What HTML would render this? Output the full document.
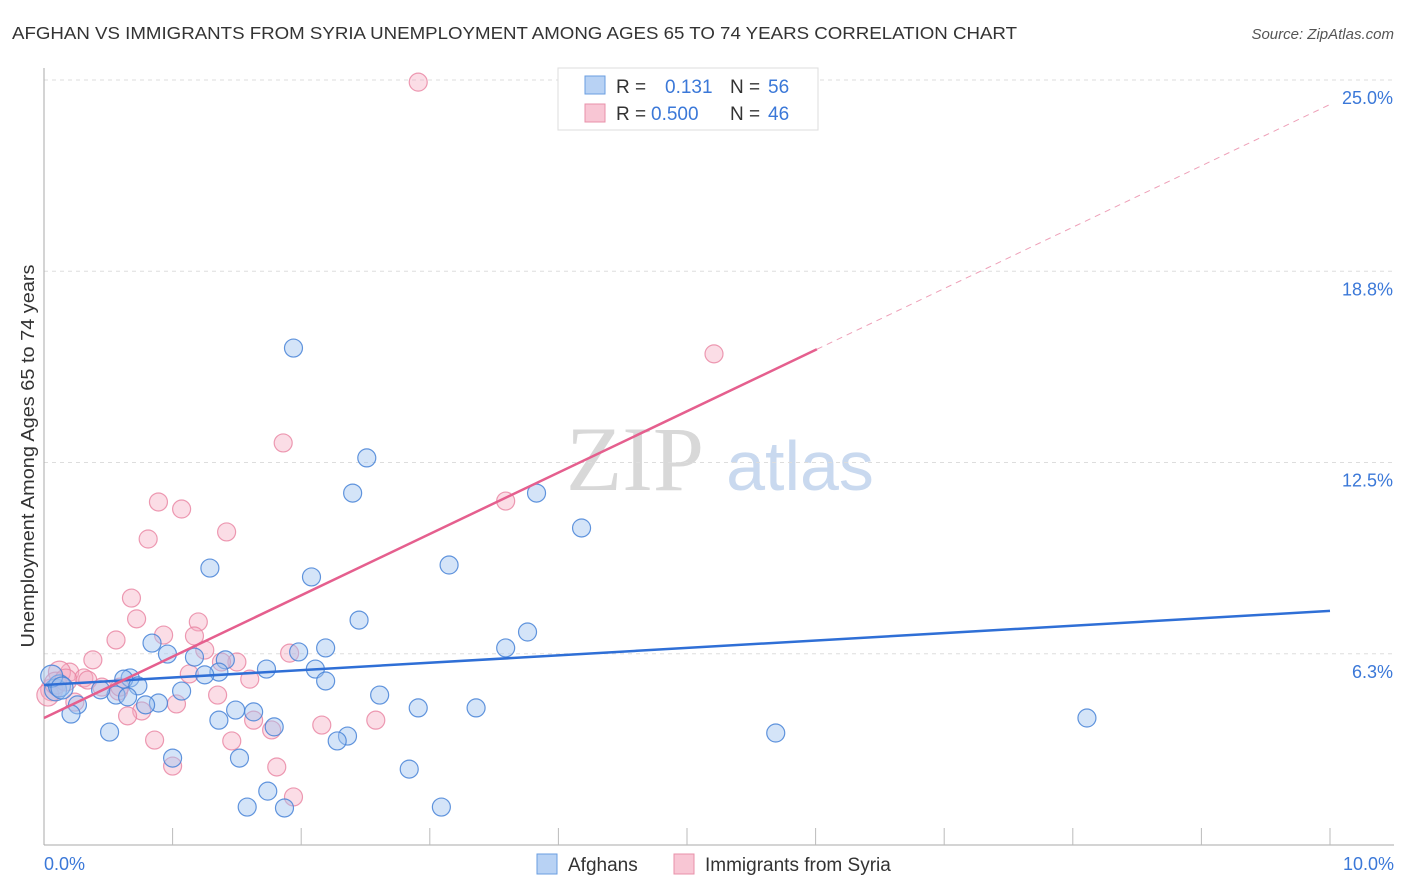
<!DOCTYPE html>
<html><head><meta charset="utf-8"><style>
body{margin:0;background:#fff;font-family:"Liberation Sans",sans-serif;}
svg{display:block}
</style></head><body>
<svg id="chart" width="1406" height="892">
<text x="12" y="39" font-size="17.5" fill="#333" textLength="1005" lengthAdjust="spacingAndGlyphs">AFGHAN VS IMMIGRANTS FROM SYRIA UNEMPLOYMENT AMONG AGES 65 TO 74 YEARS CORRELATION CHART</text>
<text x="1394" y="39" font-size="15" fill="#555" font-style="italic" text-anchor="end">Source: ZipAtlas.com</text>
<text x="635" y="490" font-size="92" fill="#d8d8d8" font-family="Liberation Serif,serif" text-anchor="middle">ZIP</text>
<text x="800" y="490" font-size="70" fill="#c9d9ef" text-anchor="middle">atlas</text>
<g id="grid"></g><g id="axes"></g><g id="pts"></g><g id="lines"></g>
<text transform="translate(34,456) rotate(-90)" font-size="18.5" fill="#333" text-anchor="middle" textLength="383" lengthAdjust="spacingAndGlyphs">Unemployment Among Ages 65 to 74 years</text>
<g>
<rect x="558" y="68" width="260" height="62" fill="#fff" stroke="#ddd"/>
<rect x="585" y="76" width="20" height="18" fill="#b8d2f4" stroke="#6a9ee0"/>
<rect x="585" y="104" width="20" height="18" fill="#f8c6d4" stroke="#e890aa"/>
<text x="616" y="93" font-size="19" fill="#333">R = </text><text x="665" y="93" font-size="19" fill="#3b78d8">0.131</text>
<text x="730" y="93" font-size="19" fill="#333">N = </text><text x="768" y="93" font-size="19" fill="#3b78d8">56</text>
<text x="616" y="120" font-size="19" fill="#333">R = </text><text x="651" y="120" font-size="19" fill="#3b78d8">0.500</text>
<text x="730" y="120" font-size="19" fill="#333">N = </text><text x="768" y="120" font-size="19" fill="#3b78d8">46</text>
</g>
<g>
<rect x="537" y="854" width="20" height="20" fill="#b8d2f4" stroke="#6a9ee0"/>
<text x="568" y="871" font-size="19" fill="#333">Afghans</text>
<rect x="674" y="854" width="20" height="20" fill="#f8c6d4" stroke="#e890aa"/>
<text x="705" y="871" font-size="19" fill="#333">Immigrants from Syria</text>
</g>
</svg>
<script>
const yTicks=[6.25,12.5,18.75,25];
const yTickLabels=["6.3%","12.5%","18.8%","25.0%"];
const xTickLabels=["0.0%","10.0%"];
const blueX=[1.94,2.51,2.40,3.83,4.18,3.15,1.29,2.08,2.45,3.76,0.84,2.19,3.59,0.96,1.17,1.41,1.98,1.73,2.11,1.36,1.25,0.67,0.62,0.73,2.19,1.07,0.56,0.44,0.65,0.09,0.12,0.06,0.26,0.21,0.89,0.79,2.61,2.91,3.36,1.49,1.63,1.36,1.79,0.51,2.36,2.28,8.11,5.69,1.00,1.52,2.84,1.74,1.58,1.87,3.09,0.14];
const blueY=[16.24,12.65,11.50,11.50,10.36,9.15,9.05,8.76,7.35,6.96,6.60,6.44,6.44,6.24,6.14,6.05,6.31,5.75,5.75,5.65,5.56,5.46,5.42,5.20,5.36,5.03,4.90,5.07,4.84,5.07,5.20,5.52,4.58,4.28,4.64,4.58,4.90,4.48,4.48,4.41,4.35,4.08,3.86,3.69,3.56,3.40,4.15,3.66,2.84,2.84,2.48,1.76,1.24,1.21,1.24,5.13];
const pinkX=[2.91,5.21,1.86,3.59,0.89,1.07,0.81,1.42,0.68,0.72,1.20,1.17,0.93,0.56,0.38,1.25,1.50,1.91,1.38,1.13,1.60,0.20,0.12,0.31,0.45,0.58,0.34,0.06,0.03,0.59,1.35,1.03,0.24,0.76,0.65,1.63,2.58,2.16,1.77,0.86,1.46,1.00,1.81,1.94,0.09,0.17];
const pinkY=[24.93,16.05,13.14,11.24,11.21,10.98,10.00,10.23,8.07,7.39,7.29,6.83,6.86,6.70,6.05,6.37,5.98,6.27,5.98,5.59,5.42,5.65,5.65,5.46,5.16,5.03,5.39,5.07,4.90,5.16,4.90,4.61,4.67,4.38,4.22,4.08,4.08,3.92,3.76,3.43,3.40,2.58,2.55,1.57,5.29,5.39];
const blueTrend=[5.23,7.65];
const pinkTrend=[4.15,24.2];
const NS="http://www.w3.org/2000/svg";
const X=v=>44+v*128.6, Y=v=>845-v*30.6;
function mk(p,t,a){const e=document.createElementNS(NS,t);for(const k in a)e.setAttribute(k,a[k]);document.getElementById(p).appendChild(e);return e;}
yTicks.forEach((t,i)=>{
 const g=mk('grid','line',{x1:44,x2:1394,y1:Y(t)-0,y2:Y(t),stroke:'#ddd','stroke-dasharray':'4,4'});
 
 
 const l=mk('grid','text',{x:1393,y:Y(t)+24,'font-size':18,fill:'#3b78d8','text-anchor':'end'});
 l.textContent=yTickLabels[i];
 
 
});
mk('axes','line',{x1:44,x2:44,y1:68,y2:845,stroke:'#aaa'});
mk('axes','line',{x1:44,x2:1394,y1:845,y2:845,stroke:'#aaa'});
for(let i=1;i<=10;i++){const t=mk('axes','line',{x1:X(i),x2:X(i),y1:828,y2:845,stroke:'#bbb'});
 
 }
[[0,'start',44],[10,'end',1394]].forEach((d,i)=>{const l=mk('axes','text',{x:d[2],y:870,'font-size':18,fill:'#3b78d8','text-anchor':d[1]});l.textContent=xTickLabels[i];
 
 });
pinkX.forEach((x,i)=>{const c=mk('pts','circle',{cx:X(x),cy:Y(pinkY[i]),r:x<0.2?11:9,fill:'rgba(246,170,193,0.4)',stroke:'rgba(232,130,160,0.8)','stroke-width':1.2});
 
 });
blueX.forEach((x,i)=>{const c=mk('pts','circle',{cx:X(x),cy:Y(blueY[i]),r:x<0.2?11:9,fill:'rgba(160,196,240,0.45)',stroke:'rgba(70,130,215,0.85)','stroke-width':1.2});
 
 });
const b=mk('lines','line',{x1:X(0),y1:Y(blueTrend[0]),x2:X(10),y2:Y(blueTrend[1]),stroke:'#2f6fd6','stroke-width':2.5});


const ps=(pinkTrend[1]-pinkTrend[0])/10, xe=6.01;
const p=mk('lines','line',{x1:X(0),y1:Y(pinkTrend[0]),x2:X(xe),y2:Y(pinkTrend[0]+ps*xe),stroke:'#e55f8e','stroke-width':2.5});


const pd=mk('lines','line',{x1:X(xe),y1:Y(pinkTrend[0]+ps*xe),x2:X(10),y2:Y(pinkTrend[1]),stroke:'#eea0b8','stroke-width':1,'stroke-dasharray':'6,5'});


</script>
</body></html>
